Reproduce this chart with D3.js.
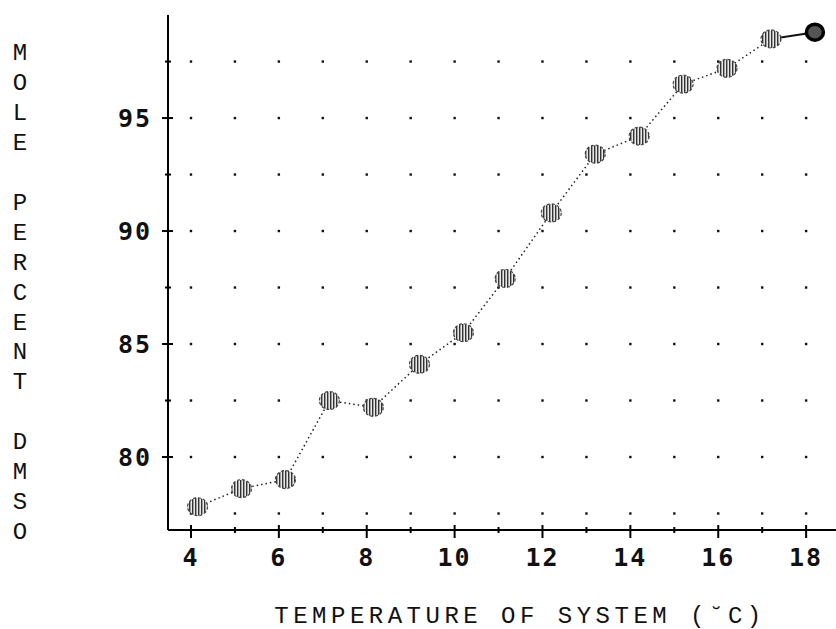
<!DOCTYPE html>
<html>
<head>
<meta charset="utf-8">
<script src="https://cdn.jsdelivr.net/npm/d3@7"></script>
<style>
  html, body { margin: 0; padding: 0; background: #fff; }
  svg { display: block; }
</style>
</head>
<body>
<svg id="chart" width="836" height="629"></svg>
<script>
// ---- data ----
const temperature = [4.15, 5.15, 6.15, 7.15, 8.15, 9.2, 10.2, 11.15, 12.2, 13.2, 14.2, 15.2, 16.2, 17.2, 18.2];
const molePercent = [77.8, 78.6, 79.0, 82.5, 82.2, 84.1, 85.5, 87.9, 90.8, 93.4, 94.2, 96.5, 97.2, 98.5, 98.8];
const xTickLabels = [4, 6, 8, 10, 12, 14, 16, 18];
const xMinorTicks = [5, 7, 9, 11, 13, 15, 17];
const yTickLabels = [80, 85, 90, 95];
const yMinorTicks = [82.5, 87.5, 92.5, 97.5];
const gridX = [4, 5, 6, 7, 8, 9, 10, 11, 12, 13, 14, 15, 16, 17, 18];
const gridY = [77.5, 80, 82.5, 85, 87.5, 90, 92.5, 95, 97.5];
const yTitle = "MOLE PERCENT DMSO";
const xTitle = "TEMPERATURE OF SYSTEM (\u02D8C)";

const svg = d3.select("#chart");
const pLeft = 168, pRight = 836, pTop = 15, pBottom = 530;

const x = d3.scaleLinear().domain([3.477, 18.68]).range([pLeft, pRight]);
const y = d3.scaleLinear().domain([76.77, 99.56]).range([pBottom, pTop]);

// pattern for hatched markers
const defs = svg.append("defs");
const pat = defs.append("pattern").attr("id", "hatch").attr("patternUnits", "userSpaceOnUse")
  .attr("width", 3).attr("height", 3);
pat.append("rect").attr("width", 3).attr("height", 3).attr("fill", "#e8e8e8");
pat.append("rect").attr("width", 1.4).attr("height", 3).attr("fill", "#333");

// grid dots
const dots = [];
gridX.forEach(gx => gridY.forEach(gy => dots.push([gx, gy])));
svg.append("g").selectAll("rect").data(dots).join("rect")
  .attr("x", d => x(d[0]) - 1.2).attr("y", d => y(d[1]) - 1.2)
  .attr("width", 2.4).attr("height", 2.4).attr("fill", "#111");

// axes lines
svg.append("line").attr("x1", pLeft).attr("x2", pLeft).attr("y1", pTop).attr("y2", pBottom)
  .attr("stroke", "#000").attr("stroke-width", 2);
svg.append("line").attr("x1", pLeft).attr("x2", pRight).attr("y1", pBottom).attr("y2", pBottom)
  .attr("stroke", "#000").attr("stroke-width", 2);

// y ticks
svg.append("g").selectAll("line").data(yTickLabels).join("line")
  .attr("x1", pLeft - 6).attr("x2", pLeft + 5).attr("y1", d => y(d)).attr("y2", d => y(d))
  .attr("stroke", "#000").attr("stroke-width", 2);
svg.append("g").selectAll("line").data(yMinorTicks).join("line")
  .attr("x1", pLeft - 3).attr("x2", pLeft + 3).attr("y1", d => y(d)).attr("y2", d => y(d))
  .attr("stroke", "#000").attr("stroke-width", 2);
svg.append("g").selectAll("text").data(yTickLabels).join("text")
  .attr("x", 152).attr("y", d => y(d)).attr("dy", "0.36em")
  .attr("text-anchor", "end")
  .attr("font-family", "DejaVu Sans Mono").attr("font-weight", "bold")
  .attr("font-size", 25).attr("letter-spacing", 2)
  .attr("fill", "#111").text(d => d);

// x ticks
svg.append("g").selectAll("line").data(xTickLabels).join("line")
  .attr("x1", d => x(d)).attr("x2", d => x(d)).attr("y1", pBottom - 5).attr("y2", pBottom + 8)
  .attr("stroke", "#000").attr("stroke-width", 2);
svg.append("g").selectAll("line").data(xMinorTicks).join("line")
  .attr("x1", d => x(d)).attr("x2", d => x(d)).attr("y1", pBottom - 3).attr("y2", pBottom + 3)
  .attr("stroke", "#000").attr("stroke-width", 2);
svg.append("g").selectAll("text").data(xTickLabels).join("text")
  .attr("x", d => x(d)).attr("y", 566)
  .attr("text-anchor", "middle")
  .attr("font-family", "DejaVu Sans Mono").attr("font-weight", "bold")
  .attr("font-size", 25).attr("letter-spacing", 2)
  .attr("fill", "#111").text(d => d);

// y title stacked letters
svg.append("g").selectAll("text").data(yTitle.split("")).join("text")
  .attr("x", 20).attr("y", (d, i) => 52 + i * 29.9).attr("dy", "0.35em")
  .attr("text-anchor", "middle")
  .attr("font-family", "Liberation Mono").attr("font-size", 24)
  .attr("fill", "#111").text(d => d);

// x title
svg.append("text").attr("x", 520).attr("y", 623)
  .attr("text-anchor", "middle")
  .attr("font-family", "Liberation Mono").attr("font-size", 24)
  .attr("letter-spacing", 4.5)
  .attr("fill", "#111").text(xTitle);

// connecting lines
const pts = temperature.map((t, i) => [t, molePercent[i]]);
const n = pts.length;
const line = d3.line().x(d => x(d[0])).y(d => y(d[1]));
svg.append("path").datum(pts.slice(0, n - 1)).attr("d", line)
  .attr("fill", "none").attr("stroke", "#222").attr("stroke-width", 1.5)
  .attr("stroke-dasharray", "1.5,3");
svg.append("path").datum(pts.slice(n - 2)).attr("d", line)
  .attr("fill", "none").attr("stroke", "#111").attr("stroke-width", 2);

// markers
svg.append("g").selectAll("ellipse").data(pts.slice(0, n - 1)).join("ellipse")
  .attr("cx", d => x(d[0])).attr("cy", d => y(d[1]))
  .attr("rx", 10).attr("ry", 9)
  .attr("fill", "url(#hatch)").attr("stroke", "#444").attr("stroke-width", 1.2)
  .attr("stroke-dasharray", "3,2");
svg.append("g").selectAll("ellipse").data(pts.slice(n - 1)).join("ellipse")
  .attr("cx", d => x(d[0])).attr("cy", d => y(d[1]))
  .attr("rx", 8.5).attr("ry", 8)
  .attr("fill", "#555").attr("stroke", "#000").attr("stroke-width", 3.5);
</script>
</body>
</html>
